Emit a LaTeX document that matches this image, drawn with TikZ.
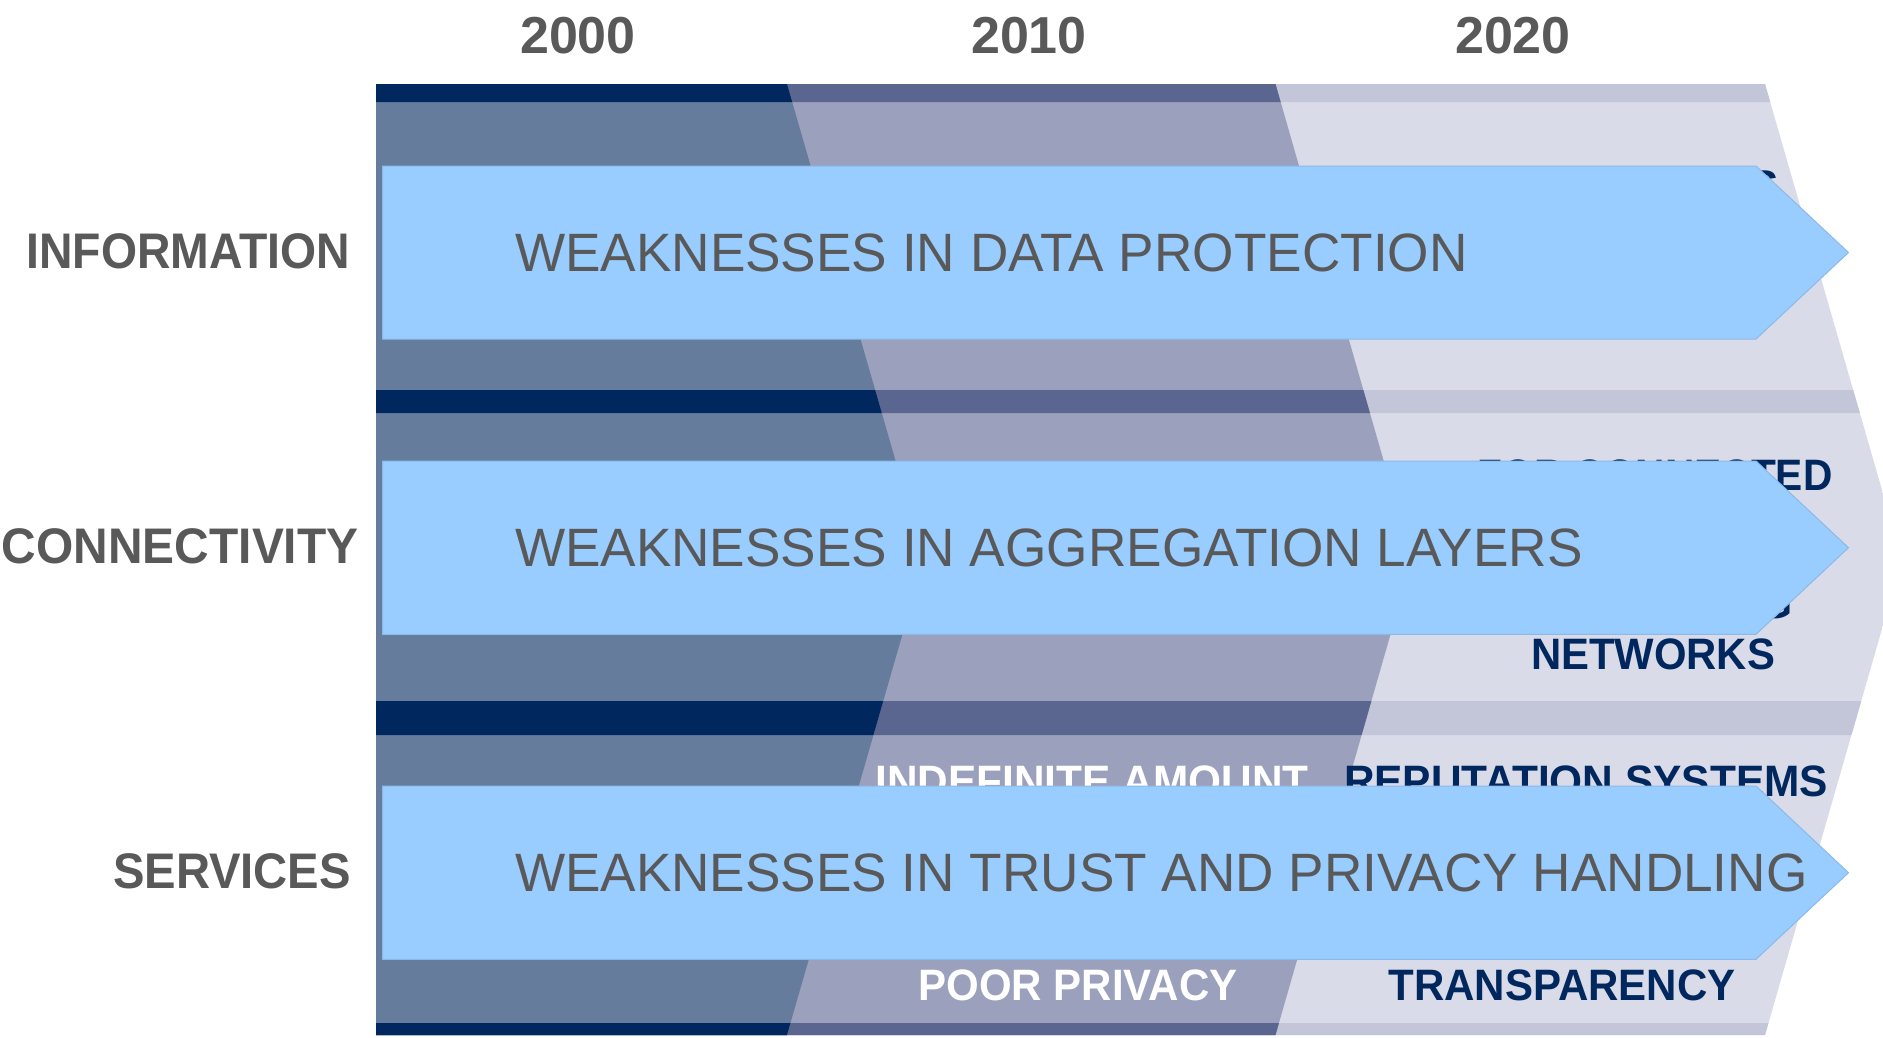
\documentclass[tikz,border=0pt]{standalone}
\usepackage{fontspec}
\setmainfont{Liberation Sans}
\usepackage{graphicx}
\definecolor{navy}{RGB}{0,40,94}
\definecolor{cAfill}{RGB}{101,124,156}
\definecolor{cBband}{RGB}{90,102,144}
\definecolor{cBfill}{RGB}{155,160,188}
\definecolor{cCband}{RGB}{195,197,217}
\definecolor{cCfill}{RGB}{217,219,232}
\definecolor{arrowfill}{RGB}{153,204,255}
\definecolor{arrowedge}{RGB}{140,186,232}
\definecolor{txtgray}{RGB}{89,89,89}
\newcommand\fitw[2]{\resizebox{#1pt}{\height}{#2}}
\begin{document}
\begin{tikzpicture}[x=1pt,y=-1pt,
  rowlab/.style={inner sep=0pt, outer sep=0pt, anchor=base east, text=txtgray,
     font=\bfseries\fontsize{50}{50}\selectfont},
  yearlab/.style={inner sep=0pt, outer sep=0pt, anchor=base, text=txtgray,
     font=\bfseries\fontsize{52}{52}\selectfont},
  hidlab/.style={inner sep=0pt, outer sep=0pt, anchor=base,
     font=\bfseries\fontsize{44}{44}\selectfont},
  arrtxt/.style={inner sep=0pt, outer sep=0pt, anchor=base west, text=txtgray,
     font=\fontsize{54}{54}\selectfont},
  bigarrow/.style={fill=arrowfill, draw=arrowedge, line width=1pt}]
\useasboundingbox (0,0) rectangle (1883,1037);
\begin{scope}
\clip (0,0) rectangle (1883,1037);
% column 3 (light)
\begin{scope}
\clip (376,84) -- (1765,84) -- (1902,559.5) -- (1765,1035) -- (376,1035) -- cycle;
\fill[cCfill] (370,80) rectangle (1910,1040);
\fill[cCband] (370,84) rectangle (1910,102) (370,390) rectangle (1910,413)
  (370,701) rectangle (1910,735) (370,1023) rectangle (1910,1035);
\end{scope}
% column 2 (medium)
\begin{scope}
\clip (376,84) -- (1275.5,84) -- (1412,559.5) -- (1275.5,1035) -- (376,1035) -- cycle;
\fill[cBfill] (370,80) rectangle (1910,1040);
\fill[cBband] (370,84) rectangle (1910,102) (370,390) rectangle (1910,413)
  (370,701) rectangle (1910,735) (370,1023) rectangle (1910,1035);
\end{scope}
% column 1 (dark)
\begin{scope}
\clip (376,84) -- (787,84) -- (924,559.5) -- (787,1035) -- (376,1035) -- cycle;
\fill[cAfill] (370,80) rectangle (1910,1040);
\fill[navy] (370,84) rectangle (1910,102) (370,390) rectangle (1910,413)
  (370,701) rectangle (1910,735) (370,1023) rectangle (1910,1035);
\end{scope}
% texts partly hidden behind the arrows
\node[hidlab, text=navy, anchor=base east] (fragS) at (1779,201.5) {S};
\node[hidlab, text=navy] (forconn) at (1655,490) {\fitw{355}{FOR CONNECTED}};
\node[hidlab, text=navy, anchor=base east] (fragG) at (1793,618) {G};
\node[hidlab, text=navy] (networks) at (1653,669.3) {\fitw{244}{NETWORKS}};
\node[hidlab, text=white] (indef) at (1092,796.7) {\fitw{433}{INDEFINITE AMOUNT}};
\node[hidlab, text=navy] (reput) at (1586,796.7) {\fitw{484}{REPUTATION SYSTEMS}};
\node[hidlab, text=white] (poor) at (1078,1000) {\fitw{319}{POOR PRIVACY}};
\node[hidlab, text=navy] (transp) at (1562,1000) {\fitw{347}{TRANSPARENCY}};
% arrows
\path[bigarrow] (382.6,166) -- (1756,166) -- (1848.5,252.5) -- (1756,339) -- (382.6,339) -- cycle;
\path[bigarrow] (382.6,461) -- (1756,461) -- (1848.5,547.7) -- (1756,634.3) -- (382.6,634.3) -- cycle;
\path[bigarrow] (382.6,786) -- (1756,786) -- (1848.5,872.7) -- (1756,959.3) -- (382.6,959.3) -- cycle;
\end{scope}
\node[arrtxt] (w1) at (515,271) {\fitw{952.5}{WEAKNESSES IN DATA PROTECTION}};
\node[arrtxt] (w2) at (515,566) {\fitw{1067.5}{WEAKNESSES IN AGGREGATION LAYERS}};
\node[arrtxt] (w3) at (515,891) {\fitw{1292.5}{WEAKNESSES IN TRUST AND PRIVACY HANDLING}};
% row labels
\node[rowlab] (info) at (350,268.3) {\fitw{323.5}{INFORMATION}};
\node[rowlab] (conn) at (358.5,563.3) {\fitw{356.5}{CONNECTIVITY}};
\node[rowlab] (serv) at (351,888.3) {\fitw{238}{SERVICES}};
% years
\node[yearlab] (y2000) at (578,53) {2000};
\node[yearlab] (y2010) at (1029,53) {2010};
\node[yearlab] (y2020) at (1513,53) {2020};
\end{tikzpicture}
\end{document}
